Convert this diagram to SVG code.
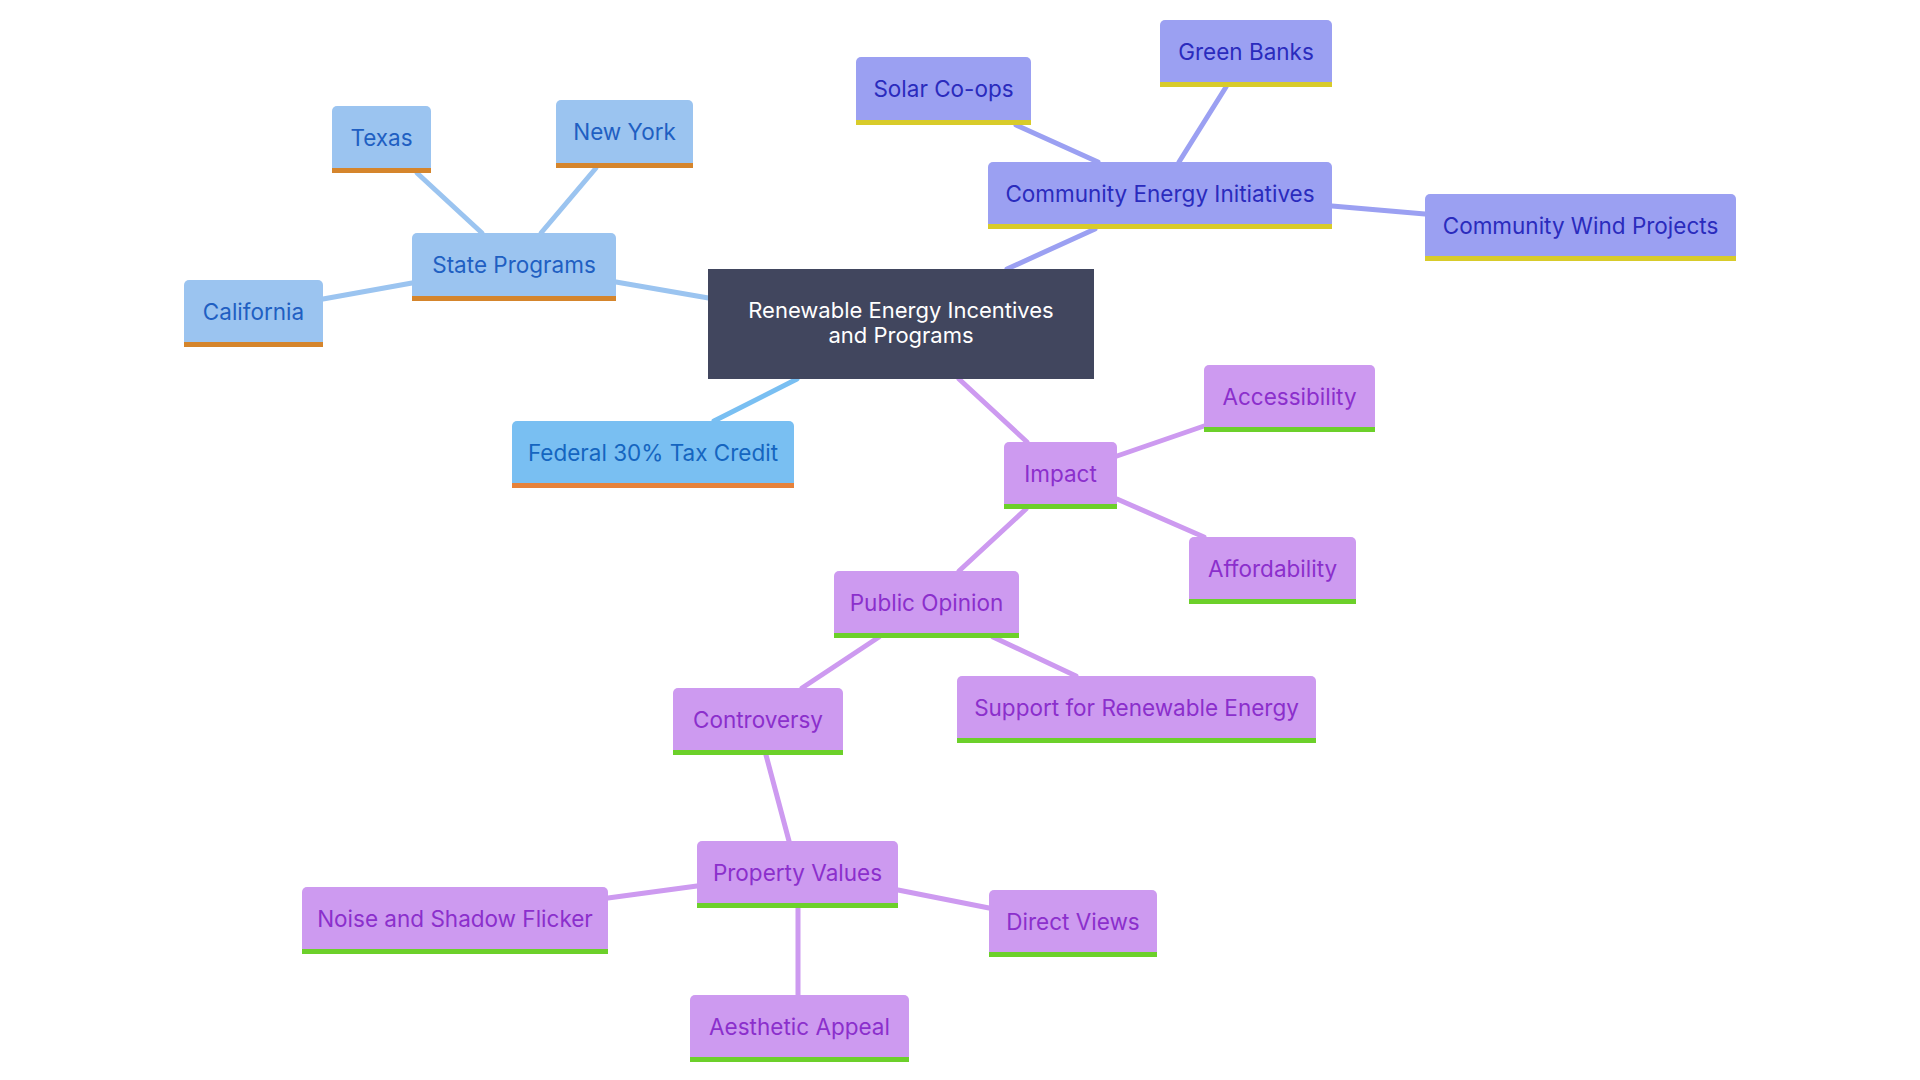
<svg xmlns="http://www.w3.org/2000/svg" width="1920" height="1080" viewBox="0 0 1920 1080">
<style>
text{font-family:Inter,"Open Sans","Liberation Sans",sans-serif;font-size:22.5px;text-anchor:middle;dominant-baseline:central}
.e{fill:none;stroke-width:5;stroke-linecap:round}
.eb{stroke:#9bc4f0}.ef{stroke:#79bff2}.ec{stroke:#9ba0f2}.ep{stroke:#cd9af0}
.nb{fill:#9bc4f0}.nf{fill:#79bff2}.nc{fill:#9ba0f2}.np{fill:#cd9af0}
.bb{fill:#d5852c}.bf{fill:#e6823a}.bc{fill:#d8cb2a}.bp{fill:#6cd02a}
.tb{fill:#1f5fc2}.tf{fill:#1565c0}.tc{fill:#2a2bbd}.tp{fill:#8b2fcc}
</style>
<rect width="1920" height="1080" fill="#ffffff"/>
<g id="connectors">
<line class="e eb" x1="616" y1="282" x2="720" y2="300"/>
<line class="e eb" x1="417" y1="173" x2="482" y2="233"/>
<line class="e eb" x1="596" y1="168" x2="541" y2="233"/>
<line class="e eb" x1="323" y1="299" x2="412" y2="283"/>
<line class="e ef" x1="714" y1="421" x2="797" y2="379"/>
<line class="e ep" x1="1027" y1="442" x2="959" y2="379"/>
<line class="e ec" x1="1095" y1="229" x2="1007" y2="269"/>
<line class="e ec" x1="1016" y1="125" x2="1098" y2="162"/>
<line class="e ec" x1="1226" y1="87" x2="1179" y2="162"/>
<line class="e ec" x1="1332" y1="206" x2="1425" y2="214"/>
<line class="e ep" x1="1117" y1="456" x2="1204" y2="426"/>
<line class="e ep" x1="1117" y1="499" x2="1204" y2="537"/>
<line class="e ep" x1="1026" y1="509" x2="959" y2="571"/>
<line class="e ep" x1="879" y1="637" x2="802" y2="688"/>
<line class="e ep" x1="993" y1="637" x2="1076" y2="676"/>
<line class="e ep" x1="766" y1="755" x2="789" y2="841"/>
<line class="e ep" x1="697" y1="886" x2="608" y2="898"/>
<line class="e ep" x1="898" y1="890" x2="989" y2="908"/>
<line class="e ep" x1="798" y1="908" x2="798" y2="995"/>
</g>
<g id="root">
<rect x="708" y="269" width="386" height="110" fill="#41465e"/>
<text x="901" y="310" fill="#ffffff" style="font-size:22px">Renewable Energy Incentives</text>
<text x="901" y="335" fill="#ffffff" style="font-size:22px">and Programs</text>
</g>
<g id="state-programs"><rect class="nb" x="412" y="233" width="204" height="68" rx="5"/><rect class="bb" x="412" y="296" width="204" height="5"/><text class="tb" x="514" y="264">State Programs</text></g>
<g id="texas"><rect class="nb" x="332" y="106" width="99" height="67" rx="5"/><rect class="bb" x="332" y="168" width="99" height="5"/><text class="tb" x="381.5" y="137">Texas</text></g>
<g id="new-york"><rect class="nb" x="556" y="100" width="137" height="68" rx="5"/><rect class="bb" x="556" y="163" width="137" height="5"/><text class="tb" x="624.5" y="131">New York</text></g>
<g id="california"><rect class="nb" x="184" y="280" width="139" height="67" rx="5"/><rect class="bb" x="184" y="342" width="139" height="5"/><text class="tb" x="253.5" y="311">California</text></g>
<g id="federal"><rect class="nf" x="512" y="421" width="282" height="67" rx="5"/><rect class="bf" x="512" y="483" width="282" height="5"/><text class="tf" x="653" y="452">Federal 30% Tax Credit</text></g>
<g id="community"><rect class="nc" x="988" y="162" width="344" height="67" rx="5"/><rect class="bc" x="988" y="224" width="344" height="5"/><text class="tc" x="1160" y="193">Community Energy Initiatives</text></g>
<g id="solar"><rect class="nc" x="856" y="57" width="175" height="68" rx="5"/><rect class="bc" x="856" y="120" width="175" height="5"/><text class="tc" x="943.5" y="88">Solar Co-ops</text></g>
<g id="green-banks"><rect class="nc" x="1160" y="20" width="172" height="67" rx="5"/><rect class="bc" x="1160" y="82" width="172" height="5"/><text class="tc" x="1246" y="51">Green Banks</text></g>
<g id="wind"><rect class="nc" x="1425" y="194" width="311" height="67" rx="5"/><rect class="bc" x="1425" y="256" width="311" height="5"/><text class="tc" x="1580.5" y="225">Community Wind Projects</text></g>
<g id="impact"><rect class="np" x="1004" y="442" width="113" height="67" rx="5"/><rect class="bp" x="1004" y="504" width="113" height="5"/><text class="tp" x="1060.5" y="473">Impact</text></g>
<g id="accessibility"><rect class="np" x="1204" y="365" width="171" height="67" rx="5"/><rect class="bp" x="1204" y="427" width="171" height="5"/><text class="tp" x="1289.5" y="396">Accessibility</text></g>
<g id="affordability"><rect class="np" x="1189" y="537" width="167" height="67" rx="5"/><rect class="bp" x="1189" y="599" width="167" height="5"/><text class="tp" x="1272.5" y="568">Affordability</text></g>
<g id="public-opinion"><rect class="np" x="834" y="571" width="185" height="67" rx="5"/><rect class="bp" x="834" y="633" width="185" height="5"/><text class="tp" x="926.5" y="602">Public Opinion</text></g>
<g id="support"><rect class="np" x="957" y="676" width="359" height="67" rx="5"/><rect class="bp" x="957" y="738" width="359" height="5"/><text class="tp" x="1136.5" y="707">Support for Renewable Energy</text></g>
<g id="controversy"><rect class="np" x="673" y="688" width="170" height="67" rx="5"/><rect class="bp" x="673" y="750" width="170" height="5"/><text class="tp" x="758" y="719">Controversy</text></g>
<g id="property-values"><rect class="np" x="697" y="841" width="201" height="67" rx="5"/><rect class="bp" x="697" y="903" width="201" height="5"/><text class="tp" x="797.5" y="872">Property Values</text></g>
<g id="noise"><rect class="np" x="302" y="887" width="306" height="67" rx="5"/><rect class="bp" x="302" y="949" width="306" height="5"/><text class="tp" x="455" y="918">Noise and Shadow Flicker</text></g>
<g id="direct-views"><rect class="np" x="989" y="890" width="168" height="67" rx="5"/><rect class="bp" x="989" y="952" width="168" height="5"/><text class="tp" x="1073" y="921">Direct Views</text></g>
<g id="aesthetic"><rect class="np" x="690" y="995" width="219" height="67" rx="5"/><rect class="bp" x="690" y="1057" width="219" height="5"/><text class="tp" x="799.5" y="1026">Aesthetic Appeal</text></g>
</svg>
